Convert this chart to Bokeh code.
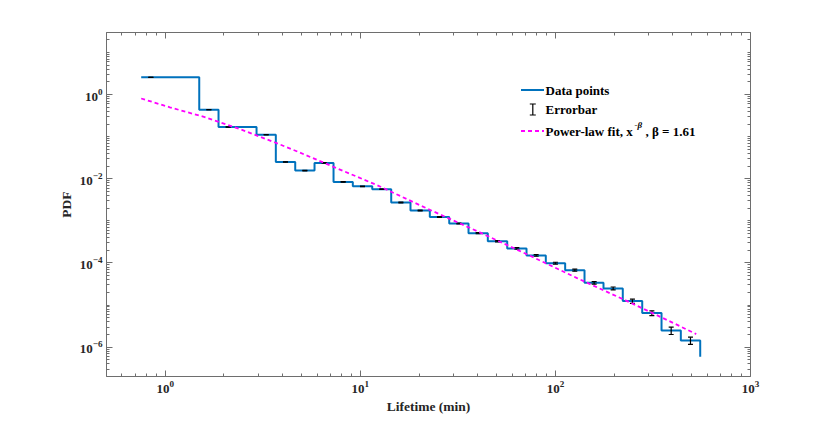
from bokeh.plotting import figure
from bokeh.models import Range1d, LogAxis, FixedTicker, Label, Arrow
from bokeh.embed import file_html
from bokeh.resources import INLINE

# ---------------- data ----------------
step_x = [0.753, 1.494, 1.876, 2.938, 3.689, 4.638, 5.825, 7.290, 9.153, 11.51,
          14.40, 18.08, 22.71, 28.56, 35.86, 45.03, 56.62, 71.11, 89.29, 112.2,
          141.0, 176.4, 221.5, 278.6, 349.9, 439.4, 552.4]
step_y = [2.575, 0.440, 0.170, 0.112, 0.0251, 0.0157, 0.0238, 0.00841, 0.00665, 0.00565,
          0.00273, 0.00176, 0.00124, 8.65e-4, 5.09e-4, 3.29e-4, 2.21e-4, 1.51e-4, 9.89e-5, 6.74e-5,
          3.37e-5, 2.48e-5, 1.24e-5, 6.43e-6, 2.49e-6, 1.44e-6, 5.9e-7]

err_x = [0.844, 1.674, 2.102, 3.292, 4.133, 5.197, 6.527, 8.168, 10.26, 12.90,
         16.14, 20.26, 25.45, 32.00, 40.18, 50.46, 63.44, 79.68, 100.0, 125.7,
         158.0, 197.7, 248.2, 312.2, 392.1, 492.4]
err_y = [2.575, 0.440, 0.170, 0.112, 0.0251, 0.0157, 0.0238, 0.00841, 0.00665, 0.00565,
         0.00273, 0.00176, 0.00124, 8.65e-4, 5.09e-4, 3.29e-4, 2.21e-4, 1.51e-4, 9.89e-5, 6.74e-5,
         3.37e-5, 2.48e-5, 1.24e-5, 6.43e-6, 2.49e-6, 1.44e-6]
err_val = [0.008, 0.002, 0.001, 0.0009, 0.0003, 0.00024, 0.0003, 0.00012, 0.0001, 0.00009,
           5.0e-5, 3.5e-5, 3.0e-5, 2.2e-5, 1.5e-5, 1.2e-5, 9.5e-6, 6.8e-6, 5.0e-6, 3.7e-6,
           2.4e-6, 2.0e-6, 1.4e-6, 8.5e-7, 5.0e-7, 2.8e-7]

fit_x = [0.753, 1.056, 1.609, 2.41, 3.63, 4.90, 7.31, 12.21, 22.0, 39.7, 73.1, 129.2, 233.0, 381.0, 527.0]
fit_y = [0.81, 0.50, 0.289, 0.1525, 0.0738, 0.0420, 0.0191, 0.00703, 0.00196, 5.69e-4,
         1.53e-4, 4.35e-5, 1.24e-5, 4.21e-6, 2.04e-6]

x_major_ticks = [1, 10, 100, 1000]
y_major_ticks = [1e-6, 1e-4, 1e-2, 1]
x_label = "Lifetime (min)"
y_label = "PDF"
legend_texts = ["Data points", "Errorbar", "Power-law fit, x", "-\u03b2", ", \u03b2 = 1.61"]

# ---------------- styling ----------------
FONT = "Liberation Serif"
AX = "#6e6e6e"
BLUE = "#0072BD"
MAG = "#FF00FF"

x_minor = [k * 10.0 ** e for e in range(-1, 3) for k in range(2, 10) if 0.5 <= k * 10.0 ** e <= 1000]
y_minor = [k * 10.0 ** e for e in range(-7, 2) for k in range(1, 10)
           if not (k == 1 and e % 2 == 0) and 2e-7 <= k * 10.0 ** e <= 30]

p = figure(width=830, height=425, x_axis_type="log", y_axis_type="log",
           x_range=Range1d(0.5, 1000), y_range=Range1d(2e-7, 30),
           output_backend="svg", toolbar_location=None,
           min_border_left=106, min_border_right=80, min_border_top=32, min_border_bottom=49)
p.grid.visible = False
p.outline_line_color = None
p.background_fill_color = "white"
p.border_fill_color = "white"


def style(ax, ticker, show_labels=True):
    ax.ticker = ticker
    ax.axis_line_color = AX
    ax.axis_line_width = 1
    ax.major_tick_line_color = AX
    ax.minor_tick_line_color = AX
    ax.major_tick_in = 6
    ax.major_tick_out = 0
    ax.minor_tick_in = 3
    ax.minor_tick_out = 0
    ax.major_label_text_font = FONT
    ax.major_label_text_font_style = "bold"
    ax.major_label_text_font_size = "13px"
    ax.major_label_text_color = "#262626"
    ax.major_label_standoff = 4
    if not show_labels:
        ax.major_label_text_color = None
        ax.major_label_text_font_size = "2px"
        ax.major_label_standoff = 0


xt = FixedTicker(ticks=x_major_ticks, minor_ticks=x_minor)
yt = FixedTicker(ticks=y_major_ticks, minor_ticks=y_minor)

bx = p.below[0]
ly = p.left[0]
style(bx, xt)
style(ly, yt)
bx.axis_label = x_label
ly.axis_label = y_label
for ax in (bx, ly):
    ax.axis_label_text_font = FONT
    ax.axis_label_text_font_style = "bold"
    ax.axis_label_text_font_size = "13.5px"
    ax.axis_label_text_color = "#262626"
    ax.axis_label_standoff = 3

top = LogAxis()
style(top, FixedTicker(ticks=x_major_ticks, minor_ticks=x_minor), show_labels=False)
right = LogAxis()
style(right, FixedTicker(ticks=y_major_ticks, minor_ticks=y_minor), show_labels=False)
p.add_layout(top, "above")
p.add_layout(right, "right")

# ---------------- marks ----------------
p.step(step_x, step_y, mode="after", line_color=BLUE, line_width=2)

err_lo = [y - e for y, e in zip(err_y, err_val)]
err_hi = [y + e for y, e in zip(err_y, err_val)]
p.segment(x0=err_x, y0=err_lo, x1=err_x, y1=err_hi, line_color="black", line_width=1.2)
p.scatter(err_x, err_lo, marker="dash", size=5, line_color="black", line_width=1.2)
p.scatter(err_x, err_hi, marker="dash", size=5, line_color="black", line_width=1.2)

p.line(fit_x, fit_y, line_color=MAG, line_width=1.8, line_dash="4 3")

# ---------------- legend (frame-relative screen units) ----------------
lx0, lx1 = 414.5, 437.5
tx = 439
rows = [286.5, 267.0, 245.5]

p.add_layout(Arrow(end=None, x_start=lx0, y_start=rows[0], x_end=lx1, y_end=rows[0],
                   start_units="screen", end_units="screen", line_color=BLUE, line_width=2))
ix = 426.3
for (xa, ya, xb, yb) in [(ix, rows[1] - 5.5, ix, rows[1] + 5.5),
                         (ix - 3, rows[1] + 5.5, ix + 3, rows[1] + 5.5),
                         (ix - 3, rows[1] - 5.5, ix + 3, rows[1] - 5.5)]:
    p.add_layout(Arrow(end=None, x_start=xa, y_start=ya, x_end=xb, y_end=yb,
                       start_units="screen", end_units="screen", line_color="black", line_width=1.2))
p.add_layout(Arrow(end=None, x_start=lx0, y_start=rows[2], x_end=lx1, y_end=rows[2],
                   start_units="screen", end_units="screen", line_color=MAG, line_width=1.8,
                   line_dash="4 3"))


def lab(text, x, y, size="13px", style_="bold"):
    p.add_layout(Label(x=x, y=y, x_units="screen", y_units="screen", text=text,
                       text_font=FONT, text_font_style=style_, text_font_size=size,
                       text_color="black", text_baseline="middle", text_align="left"))


lab(legend_texts[0], tx, rows[0])
lab(legend_texts[1], tx, rows[1])
lab(legend_texts[2], tx, rows[2])
lab(legend_texts[3], tx + 89, rows[2] + 6, size="9px", style_="bold italic")
lab(legend_texts[4], tx + 100, rows[2])

open("out.html", "w").write(file_html(p, INLINE))
